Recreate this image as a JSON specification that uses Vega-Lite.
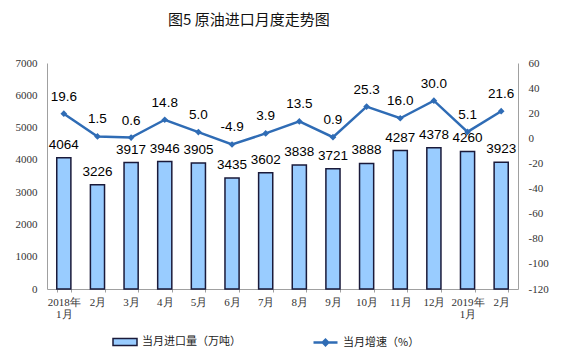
{
  "$schema": "https://vega.github.io/schema/vega-lite/v6.json",
  "autosize": {"type": "none"},
  "width": 471,
  "height": 226,
  "padding": {"left": 47, "top": 63, "right": 43, "bottom": 68},
  "background": "white",
  "title": {
    "text": "图5 原油进口月度走势图",
    "anchor": "start",
    "dx": 153,
    "offset": 29,
    "font": "Noto Sans CJK SC",
    "fontSize": 15,
    "fontWeight": "normal",
    "color": "#111111"
  },
  "data": {
    "values": [
      {"month": "2018年|1月", "volume": 4064, "growth": 19.6},
      {"month": "2月", "volume": 3226, "growth": 1.5},
      {"month": "3月", "volume": 3917, "growth": 0.6},
      {"month": "4月", "volume": 3946, "growth": 14.8},
      {"month": "5月", "volume": 3905, "growth": 5.0},
      {"month": "6月", "volume": 3435, "growth": -4.9},
      {"month": "7月", "volume": 3602, "growth": 3.9},
      {"month": "8月", "volume": 3838, "growth": 13.5},
      {"month": "9月", "volume": 3721, "growth": 0.9},
      {"month": "10月", "volume": 3888, "growth": 25.3},
      {"month": "11月", "volume": 4287, "growth": 16.0},
      {"month": "12月", "volume": 4378, "growth": 30.0},
      {"month": "2019年|1月", "volume": 4260, "growth": 5.1},
      {"month": "2月 ", "volume": 3923, "growth": 21.6}
    ]
  },
  "encoding": {
    "x": {
      "field": "month",
      "type": "nominal",
      "sort": null,
      "scale": {"paddingInner": 0.58, "paddingOuter": 0.29},
      "axis": {
        "title": null,
        "labelAngle": 0,
        "labelExpr": "datum.value ? split(datum.value, '|') : ''",
        "labelFont": "Liberation Serif",
        "labelFontSize": 11,
        "labelColor": "#333333",
        "labelPadding": 4,
        "labelLineHeight": 12,
        "domainColor": "#a0a0a0",
        "tickColor": "#a0a0a0",
        "tickBand": "extent",
        "tickSize": 3
      }
    }
  },
  "layer": [
    {
      "encoding": {
        "y": {
          "field": "volume",
          "type": "quantitative",
          "scale": {"domain": [0, 7000], "nice": false},
          "axis": {
            "orient": "left",
            "title": null,
            "format": "d",
            "values": [0, 1000, 2000, 3000, 4000, 5000, 6000, 7000],
            "grid": false,
            "labelFont": "Liberation Serif",
            "labelFontSize": 11,
            "labelColor": "#333333",
            "labelPadding": 10,
            "domainColor": "#a0a0a0",
            "ticks": false
          }
        }
      },
      "layer": [
        {
          "mark": {"type": "bar", "stroke": "#1a1a3a", "strokeWidth": 1.5},
          "encoding": {
            "fill": {
              "datum": "当月进口量（万吨）",
              "type": "nominal",
              "scale": {"range": ["#99ccff"]},
              "legend": {
                "title": null,
                "orient": "none",
                "legendX": 65,
                "legendY": 266,
                "padding": 0,
                "symbolType": "M-1,-0.3H1V0.3H-1Z",
                "symbolSize": 576,
                "symbolStrokeColor": "#1a1a3a",
                "symbolStrokeWidth": 1.5,
                "labelFont": "Noto Sans CJK SC",
                "labelFontSize": 11,
                "labelColor": "#222222"
              }
            }
          }
        },
        {
          "mark": {"type": "text", "dy": -13, "baseline": "middle", "font": "Liberation Sans", "fontSize": 13.5, "color": "#000000"},
          "encoding": {"text": {"field": "volume", "type": "quantitative", "format": "d"}}
        }
      ]
    },
    {
      "encoding": {
        "y": {
          "field": "growth",
          "type": "quantitative",
          "scale": {"domain": [-120, 60], "nice": false},
          "axis": {
            "orient": "right",
            "title": null,
            "format": "d",
            "values": [-120, -100, -80, -60, -40, -20, 0, 20, 40, 60],
            "grid": false,
            "labelFont": "Liberation Serif",
            "labelFontSize": 11,
            "labelColor": "#333333",
            "labelPadding": 10,
            "domainColor": "#a0a0a0",
            "ticks": false
          }
        }
      },
      "layer": [
        {
          "mark": {"type": "line", "strokeWidth": 2.5},
          "encoding": {
            "stroke": {
              "datum": "当月增速（%）",
              "type": "nominal",
              "scale": {"range": ["#2f6cb5"]},
              "legend": {
                "title": null,
                "orient": "none",
                "legendX": 265,
                "legendY": 266,
                "padding": 0,
                "symbolType": "M-1,0H1M-0.22,0L0,-0.22L0.22,0L0,0.22Z",
                "symbolSize": 576,
                "symbolFillColor": "#2f6cb5",
                "symbolStrokeWidth": 2.5,
                "labelFont": "Noto Sans CJK SC",
                "labelFontSize": 11,
                "labelColor": "#222222"
              }
            }
          }
        },
        {
          "mark": {"type": "point", "shape": "diamond", "filled": true, "size": 45, "color": "#2f6cb5", "opacity": 1}
        },
        {
          "mark": {"type": "text", "dy": -17, "baseline": "middle", "font": "Liberation Sans", "fontSize": 13.5, "color": "#000000"},
          "encoding": {"text": {"field": "growth", "type": "quantitative", "format": ".1f"}}
        }
      ]
    }
  ],
  "resolve": {"scale": {"y": "independent", "fill": "independent", "stroke": "independent"}},
  "config": {
    "view": {"stroke": null},
    "locale": {
      "number": {"decimal": ".", "thousands": ",", "grouping": [3], "currency": ["", ""], "minus": "-"}
    }
  }
}
